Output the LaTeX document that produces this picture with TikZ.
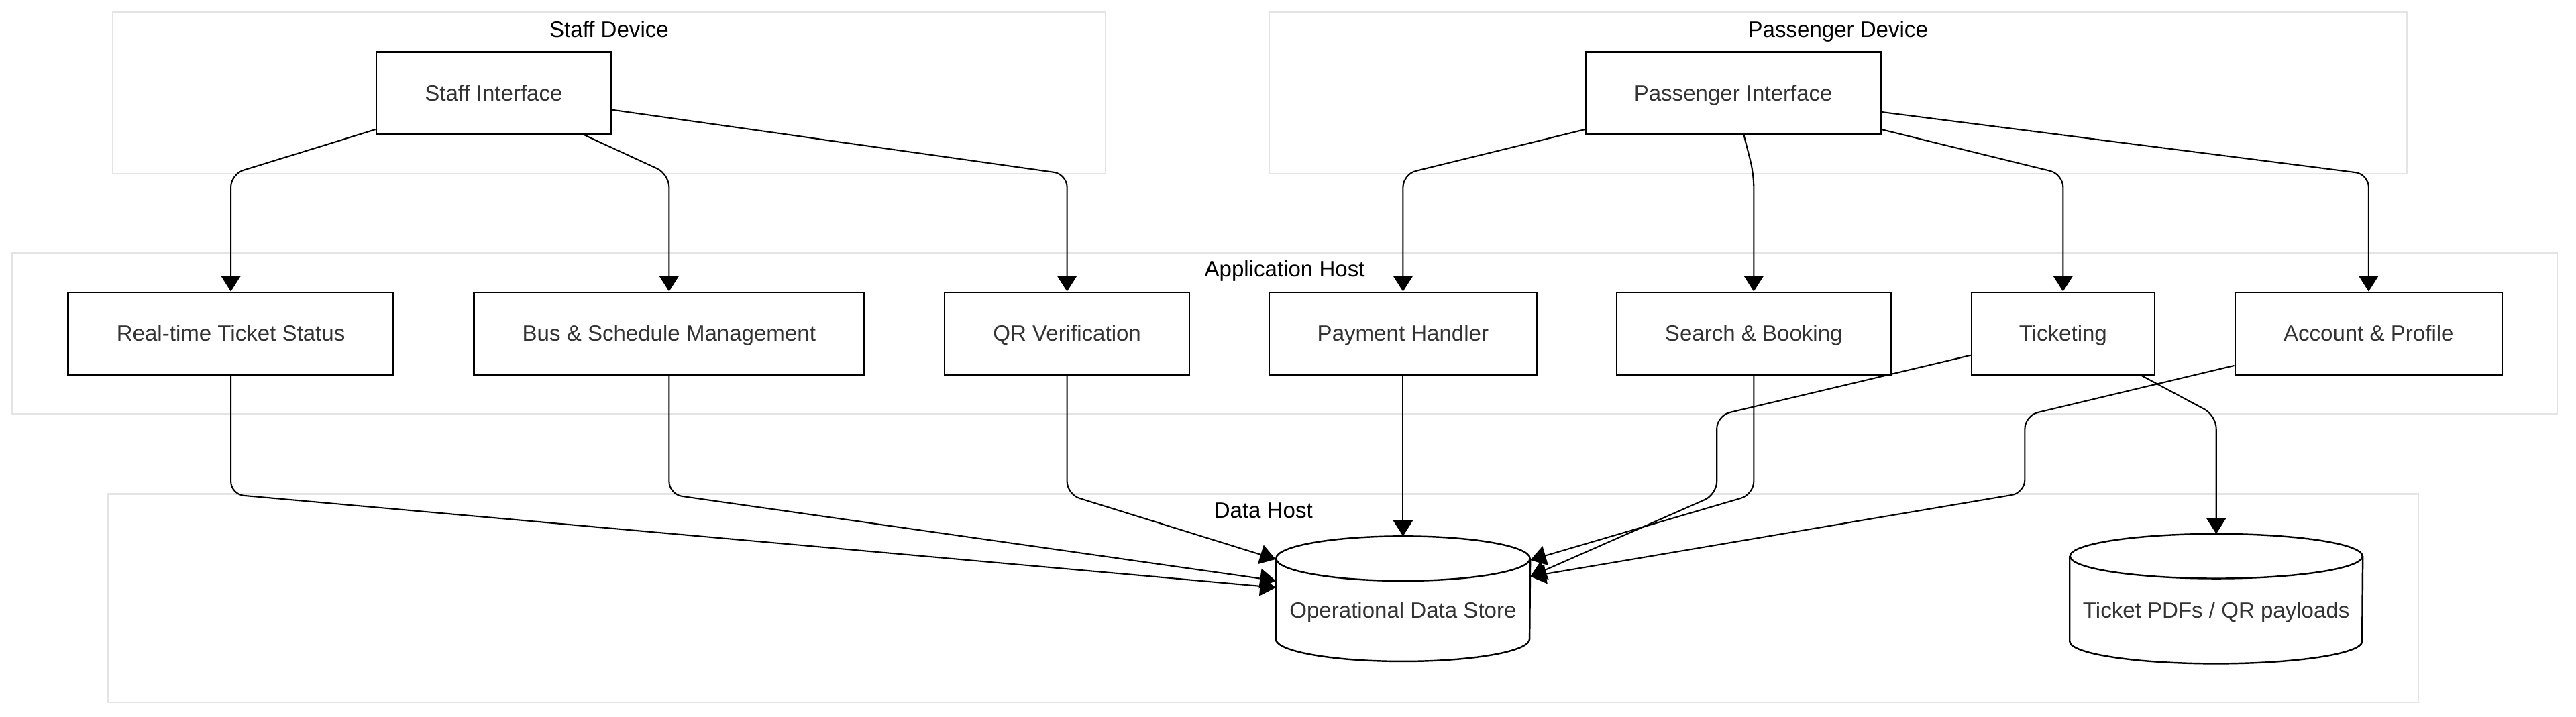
\documentclass[tikz,border=0pt]{standalone}
\usepackage{fontspec}
\setmainfont{Liberation Sans}
\usetikzlibrary{arrows.meta}

\definecolor{framegray}{HTML}{E4E4E4}
\definecolor{textgray}{HTML}{333333}

\tikzset{
  frame/.style={draw=framegray, line width=1pt},
  grouplabel/.style={inner sep=0pt, text=black, text height=9.6pt, text depth=0pt},
  proc/.style={draw, line width=1pt, text=textgray, minimum width=#1, minimum height=50pt,
    inner sep=0pt, text height=9.6pt, text depth=0pt},
  % text sits a bit below the middle, under the top cap
  db/.style 2 args={minimum width=#1, minimum height=#2, inner sep=0pt, text=textgray,
    text height=23.4pt, text depth=0pt},
  dbline/.style={draw, line width=1pt},
  link/.style={draw, line width=0.85pt, rounded corners=8pt, -{Triangle[length=9.6pt,width=12pt]}}
}

% cylinder round a node: name, half width, cap radius
\newcommand{\drawdb}[3]{%
  \draw[dbline] ([yshift=-#3pt]#1.north west) -- ([yshift=#3pt]#1.south west)
    arc[start angle=180, end angle=0, x radius=#2, y radius=#3]
    -- ([yshift=-#3pt]#1.north east);
  \draw[dbline] ([yshift=-#3pt]#1.north) ellipse [x radius=#2, y radius=#3];
}

\begin{document}
\begin{tikzpicture}[x=1pt, y=-1pt, font=\fontsize{13.5}{16}\selectfont]
% Picture size
\useasboundingbox (0,0) rectangle (1568,436.5);

% Bend levels of the connectors
\def\ytop{106}
\def\ymid{253}
\def\ylow{301}

% Group frames
\draw[frame] (68.5,7.5) rectangle (673,105.7);
\draw[frame] (772.5,7.5) rectangle (1465,105.7);
\draw[frame] (7.5,154) rectangle (1556.5,252);
\draw[frame] (66,300.8) rectangle (1472,427.6);

\node[grouplabel] (staffdev) at (370.75,17.7) {Staff Device};
\node[grouplabel] (paxdev) at (1118.75,17.7) {Passenger Device};
\node[grouplabel] (apphost) at (782,163.6) {Application Host};
\node[grouplabel] (datahost) at (769,310.8) {Data Host};

% Interfaces
\node[proc=143pt] (si) at (300.5,56.7) {Staff Interface};
\node[proc=180pt] (pi) at (1055,56.7) {Passenger Interface};

% Services
\node[proc=198pt] (rts) at (140.5,203) {Real-time Ticket Status};
\node[proc=237.5pt] (bus) at (407.25,203) {Bus \& Schedule Management};
\node[proc=149pt] (qr) at (649.5,203) {QR Verification};
\node[proc=163pt] (pay) at (854,203) {Payment Handler};
\node[proc=167pt] (search) at (1067.5,203) {Search \& Booking};
\node[proc=111.5pt] (tkt) at (1255.75,203) {Ticketing};
\node[proc=162.5pt] (acct) at (1441.75,203) {Account \& Profile};

% Data stores
\node[db={154.5pt}{75.8pt}] (store) at (854,364.5) {Operational Data Store};
\drawdb{store}{77.25}{13.6}
\node[db={178pt}{78.6pt}] (pdfs) at (1349,364.5) {Ticket PDFs / QR payloads};
\drawdb{pdfs}{89}{13.6}

% Staff connectors
\draw[link] (si) -- (rts.north |- 0,\ytop) -- (rts);
\draw[link] (si) -- (bus.north |- 0,\ytop) -- (bus);
\draw[link] (si) -- (qr.north |- 0,\ytop) -- (qr);

% Passenger connectors
\draw[link] (pi) -- (pay.north |- 0,\ytop) -- (pay);
\draw[link] (pi) -- (search.north |- 0,\ytop) -- (search);
\draw[link] (pi) -- (tkt.north |- 0,\ytop) -- (tkt);
\draw[link] (pi) -- (acct.north |- 0,\ytop) -- (acct);

% Services to storage
\draw[link] (rts) -- (rts.south |- 0,\ylow) -- (store);
\draw[link] (bus) -- (bus.south |- 0,\ylow) -- (store);
\draw[link] (qr) -- (qr.south |- 0,\ylow) -- (store);
\draw[link] (pay) -- (store);
\draw[link] (search) -- (search.south |- 0,\ylow) -- ([yshift=23.5pt]store.east);
\draw[link] (tkt) -- (1045,\ymid) -- (1045,\ylow) -- ([yshift=13.5pt]store.east);
\draw[link] (acct) -- (1232.5,\ymid) -- (1232.5,300) -- ([yshift=13.5pt]store.east);
\draw[link] (tkt) -- (pdfs.north |- 0,\ymid) -- (pdfs);
\end{tikzpicture}
\end{document}
